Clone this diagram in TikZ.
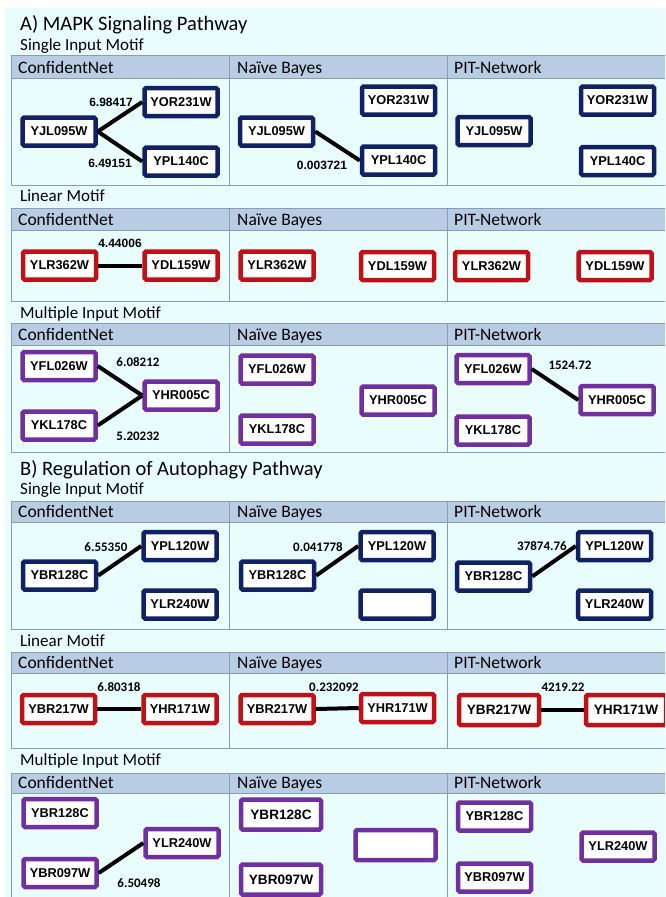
\documentclass[tikz,border=0pt]{standalone}
\usepackage{fontspec}
\setmainfont{Carlito}
\newfontfamily\genefont{Liberation Sans}
\usetikzlibrary{positioning}
\definecolor{PanelCyan}{RGB}{234,253,253}
\definecolor{HeadBlue}{RGB}{184,204,228}
\definecolor{GridGray}{RGB}{140,155,178}
\definecolor{GeneNavy}{RGB}{16,34,100}
\definecolor{GeneRed}{RGB}{192,16,24}
\definecolor{GenePurple}{RGB}{112,48,160}

\begin{document}
\begin{tikzpicture}[
    x=1pt,
    y=-1pt,
    gene/.style={
        draw,
        line width=4.5pt,
        rounded corners=1.5pt,
        fill=white,
        inner sep=0pt,
        minimum width=73pt,
        minimum height=28pt,
        font=\genefont\bfseries\fontsize{12.8}{15}\selectfont
    },
    bigger/.style={
        minimum width=80pt,
        minimum height=30pt,
        font=\genefont\bfseries\fontsize{13.6}{16}\selectfont
    },
    sim/.style={gene, draw=GeneNavy},
    lin/.style={gene, draw=GeneRed},
    mim/.style={gene, draw=GenePurple},
    link/.style={line width=4pt, draw=black},
    wlab/.style={inner sep=0pt, font=\genefont\bfseries\fontsize{12}{13}\selectfont},
    clab/.style={inner sep=0pt, font=\bfseries\fontsize{13}{14}\selectfont},
    sectitle/.style={anchor=base west, inner sep=0pt, font=\fontsize{20.5}{24}\selectfont},
    motif/.style={anchor=base west, inner sep=0pt, font=\fontsize{17}{20}\selectfont},
    colhead/.style={anchor=base west, inner sep=0pt, font=\fontsize{17.5}{20}\selectfont},
    tabline/.style={draw=GridGray, line width=1pt}
]

\useasboundingbox (0,0) rectangle (665,897);
\clip (0,0) rectangle (665,897);
\fill[white] (0,0) rectangle (665,897);
\fill[PanelCyan] (5,8) rectangle (665,897);

% table frames: top / header bottom / bottom
\foreach \top/\hb/\bot [count=\i] in {55/78/185, 208/230/301, 323/345/452, 501/522/629, 652/673/748, 773/793/910}{
    \fill[HeadBlue] (11,\top) rectangle (670,\hb);
    \draw[tabline] (11,\top) rectangle (670,\bot);
    \draw[tabline] (11,\hb) -- (670,\hb);
    \draw[tabline] (229,\top) -- (229,\bot);
    \draw[tabline] (447,\top) -- (447,\bot);
    \node[colhead] (cn\i) at (18,{\hb-5}) {ConfidentNet};
    \node[colhead] (nb\i) at (237,{\hb-5}) {Naïve Bayes};
    \node[colhead] (pit\i) at (454,{\hb-5}) {PIT-Network};
}

\node[sectitle] (titleA) at (20,30) {A) MAPK Signaling Pathway};
\node[motif] (motA1) at (20,50) {Single Input Motif};
\node[motif] (motA2) at (20,201) {Linear Motif};
\node[motif] (motA3) at (20,318) {Multiple Input Motif};
\node[sectitle] (titleB) at (20,475) {B) Regulation of Autophagy Pathway};
\node[motif] (motB1) at (20,494) {Single Input Motif};
\node[motif] (motB2) at (20,646) {Linear Motif};
\node[motif] (motB3) at (20,765) {Multiple Input Motif};

% A) single input
\node[sim] (yjlA1cn) at (59,131.5) {YJL095W};
\node[sim] (yorA1cn) at (181,102) {YOR231W};
\node[sim] (yplA1cn) at (181,161.5) {YPL140C};
\node[sim] (yjlA1nb) at (276.5,131.5) {YJL095W};
\node[sim] (yorA1nb) at (398.5,100.5) {YOR231W};
\node[sim] (yplA1nb) at (398.5,160.5) {YPL140C};
\node[sim] (yjlA1pit) at (494,131) {YJL095W};
\node[sim] (yorA1pit) at (617.5,100.5) {YOR231W};
\node[sim] (yplA1pit) at (617.5,161) {YPL140C};
\draw[link] (yjlA1cn.east) -- (yorA1cn.west);
\draw[link] (yjlA1cn.east) -- (yplA1cn.west);
\draw[link] (yjlA1nb.east) -- (yplA1nb.west);
\node[wlab] (wA1up) at (111,102) {6.98417};
\node[wlab] (wA1dn) at (110,163) {6.49151};
\node[wlab] (wA1nb) at (322,165) {0.003721};

% A) linear
\node[lin] (ylrA2cn) at (59.5,265.5) {YLR362W};
\node[lin] (ydlA2cn) at (181,265.5) {YDL159W};
\node[lin] (ylrA2nb) at (277,265.5) {YLR362W};
\node[lin] (ydlA2nb) at (397.5,266) {YDL159W};
\node[lin] (ylrA2pit) at (491.5,266) {YLR362W};
\node[lin] (ydlA2pit) at (615,266) {YDL159W};
\draw[link] (ylrA2cn.east) -- (ydlA2cn.west);
\node[wlab] (wA2) at (120,243) {4.44006};

% A) multiple input
\node[mim] (yflA3cn) at (59,366) {YFL026W};
\node[mim] (yklA3cn) at (59,425.5) {YKL178C};
\node[mim] (yhrA3cn) at (181,395.5) {YHR005C};
\node[mim] (yflA3nb) at (277,369.5) {YFL026W};
\node[mim] (yklA3nb) at (277,429.5) {YKL178C};
\node[mim] (yhrA3nb) at (398,400.5) {YHR005C};
\node[mim] (yflA3pit) at (493,369) {YFL026W};
\node[mim] (yklA3pit) at (493,430.5) {YKL178C};
\node[mim] (yhrA3pit) at (617,400) {YHR005C};
\draw[link] (yflA3cn.east) -- (yhrA3cn.west);
\draw[link] (yklA3cn.east) -- (yhrA3cn.west);
\draw[link] (yflA3pit.east) -- (yhrA3pit.west);
\node[clab] (wA3up) at (138,362) {6.08212};
\node[clab] (wA3dn) at (138,436) {5.20232};
\node[clab] (wA3pit) at (570,365) {1524.72};

% B) single input
\node[sim] (yplB1cn) at (180,546) {YPL120W};
\node[sim] (ybrB1cn) at (59.5,575.5) {YBR128C};
\node[sim] (ylrB1cn) at (180,604.5) {YLR240W};
\node[sim] (yplB1nb) at (397,546) {YPL120W};
\node[sim] (ybrB1nb) at (277.5,575.5) {YBR128C};
\node[sim] (emptyB1nb) at (397,604.5) {};
\node[sim] (yplB1pit) at (614.5,546) {YPL120W};
\node[sim] (ybrB1pit) at (493.5,576.5) {YBR128C};
\node[sim] (ylrB1pit) at (614.5,604.5) {YLR240W};
\draw[link] (ybrB1cn.east) -- (yplB1cn.west);
\draw[link] (ybrB1nb.east) -- (yplB1nb.west);
\draw[link] (ybrB1pit.east) -- (yplB1pit.west);
\node[clab] (wB1cn) at (106,547) {6.55350};
\node[clab] (wB1nb) at (318,547) {0.041778};
\node[clab] (wB1pit) at (542,546) {37874.76};

% B) linear
\node[lin] (ybrB2cn) at (58.5,709) {YBR217W};
\node[lin] (yhrB2cn) at (180,709) {YHR171W};
\node[lin] (ybrB2nb) at (277,709) {YBR217W};
\node[lin] (yhrB2nb) at (397.5,708) {YHR171W};
\node[lin, bigger] (ybrB2pit) at (499,710) {YBR217W};
\node[lin, bigger] (yhrB2pit) at (626,710) {YHR171W};
\draw[link] (ybrB2cn.east) -- (yhrB2cn.west);
\draw[link] (ybrB2nb.east) -- (yhrB2nb.west);
\draw[link] (ybrB2pit.east) -- (yhrB2pit.west);
\node[clab] (wB2cn) at (119,687) {6.80318};
\node[clab] (wB2nb) at (334,687) {0.232092};
\node[clab] (wB2pit) at (563,687) {4219.22};

% B) multiple input
\node[mim] (ybrB3cn) at (60,813) {YBR128C};
\node[mim] (ylrB3cn) at (182,843) {YLR240W};
\node[mim] (ybsB3cn) at (60,873) {YBR097W};
\node[mim, bigger] (ybrB3nb) at (281,814.5) {YBR128C};
\node[mim, bigger] (emptyB3nb) at (395.5,845) {};
\node[mim, bigger] (ybsB3nb) at (281,879.5) {YBR097W};
\node[mim] (ybrB3pit) at (494.5,816.5) {YBR128C};
\node[mim] (ylrB3pit) at (618,846.5) {YLR240W};
\node[mim] (ybsB3pit) at (494.5,877.5) {YBR097W};
\draw[link] (ybsB3cn.east) -- (ylrB3cn.west);
\node[clab] (wB3cn) at (139,883) {6.50498};

\end{tikzpicture}
\end{document}
